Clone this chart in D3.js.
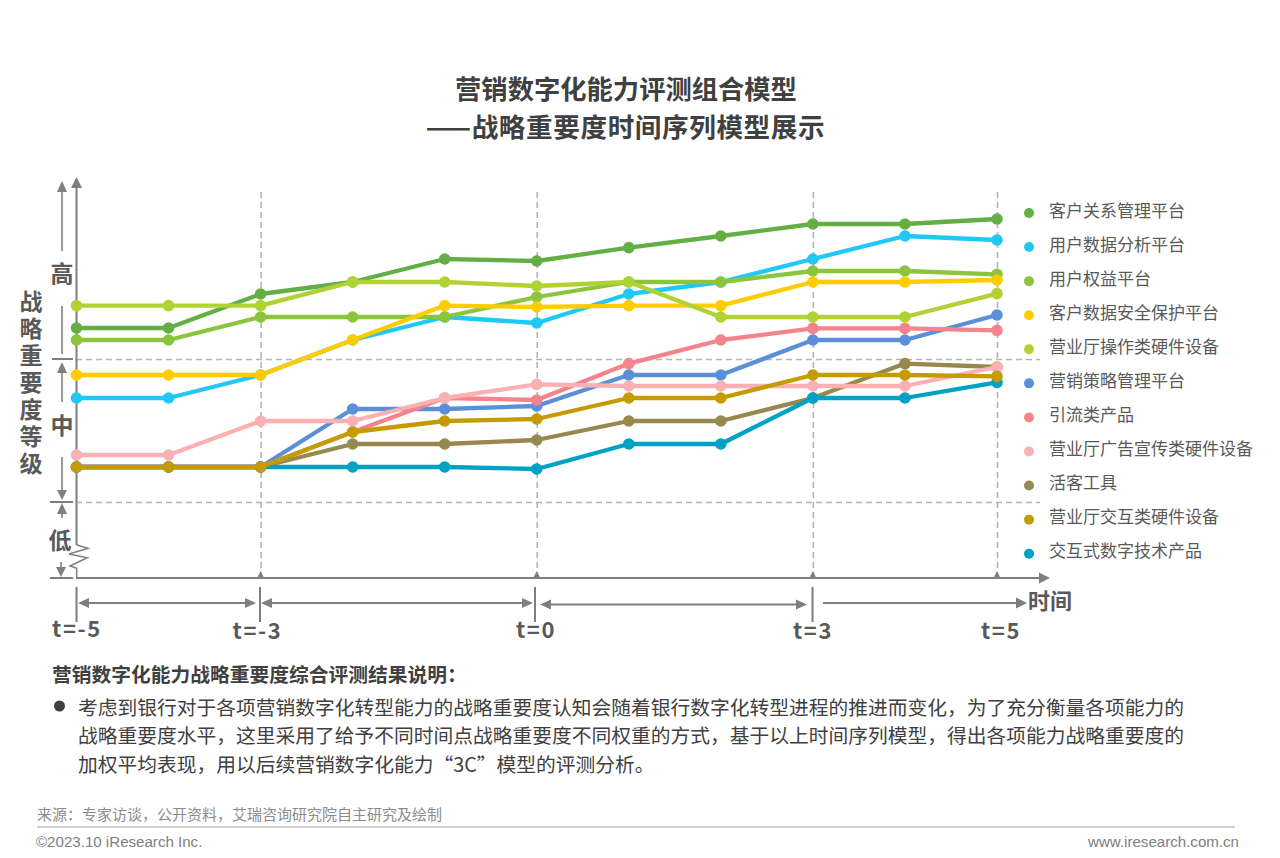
<!DOCTYPE html>
<html>
<head>
<meta charset="utf-8">
<script src="https://cdn.jsdelivr.net/npm/d3@7"></script>
<style>
    html, body { margin: 0; padding: 0; background: #fff; }
    svg { display: block; }
    text { font-family: "Noto Sans CJK SC", "Noto Sans", sans-serif; }
</style>
</head>
<body>
<div id="chart"></div>
<script>
'use strict';

// time axis, t = -5 .. 5
var times = [-5, -4, -3, -2, -1, 0, 1, 2, 3, 4, 5];
var gridTimes = [-3, 0, 3, 5];
var levelBreaks = [19, 54.75];

// legend order
var seriesNames = ['客户关系管理平台', '用户数据分析平台', '用户权益平台', '客户数据安全保护平台', '营业厅操作类硬件设备',
    '营销策略管理平台', '引流类产品', '营业厅广告宣传类硬件设备', '活客工具', '营业厅交互类硬件设备', '交互式数字技术产品'];
var seriesColors = ['#63af46', '#1fc8f5', '#8ac53c', '#ffcc00', '#b1d235',
    '#5b90d8', '#f5838b', '#fbb0b4', '#97894e', '#c49c00', '#00a2c4'];

// values, importance score 0-100
var customerRelation = [62.5, 62.5, 71, 74, 79.75, 79.25, 82.6, 85.5, 88.5, 88.5, 89.75];
var userAnalysis = [45, 45, 50.75, 59.5, 65.25, 63.75, 71, 74, 79.75, 85.5, 84.5];
var userRights = [59.5, 59.5, 65.25, 65.25, 65.25, 70.25, 74, 74, 76.75, 76.75, 75.9];
var dataSecurity = [50.75, 50.75, 50.75, 59.5, 68.1, 67.75, 68.1, 68.1, 74, 74, 74.5];
var hallOperation = [68.1, 68.1, 68.1, 74, 74, 73, 74, 65.25, 65.25, 65.25, 71.1];
var marketingStrategy = [27.75, 27.75, 27.75, 42.25, 42.25, 43, 50.75, 50.75, 59.5, 59.5, 65.75];
var trafficProducts = [27.75, 27.75, 27.75, 36.5, 45, 44.5, 53.6, 59.5, 62.4, 62.4, 61.9];
var hallAds = [30.75, 30.75, 39.25, 39.25, 45, 48.4, 48, 48, 48, 48, 52.75];
var activationTools = [27.75, 27.75, 27.75, 33.5, 33.5, 34.5, 39.25, 39.25, 45, 53.6, 52.75];
var hallInteraction = [27.75, 27.75, 27.75, 36.5, 39.25, 39.75, 45, 45, 50.75, 50.75, 50.4];
var interactiveTech = [27.75, 27.75, 27.75, 27.75, 27.75, 27.25, 33.5, 33.5, 45, 45, 48.9];
var seriesValues = [customerRelation, userAnalysis, userRights, dataSecurity, hallOperation,
    marketingStrategy, trafficProducts, hallAds, activationTools, hallInteraction, interactiveTech];

// which legend entry gets painted first (bottom) .. last (top)
var drawOrder = [8, 5, 6, 7, 10, 9, 0, 1, 2, 3, 4];

var noteLines = ['考虑到银行对于各项营销数字化转型能力的战略重要度认知会随着银行数字化转型进程的推进而变化，为了充分衡量各项能力的',
    '战略重要度水平，这里采用了给予不同时间点战略重要度不同权重的方式，基于以上时间序列模型，得出各项能力战略重要度的',
    '加权平均表现，用以后续营销数字化能力“3C”模型的评测分析。'];

var AXIS = '#7f7f7f', GRID = '#b4b4b4', TEXT = '#595959', DARK = '#404040';

var x = d3.scaleLinear().domain([-5, 5]).range([76.5, 997]);
var y = d3.scaleLinear().domain([0, 100]).range([578, 178]);

var svg = d3.select('#chart').append('svg').attr('width', 1280).attr('height', 858);
svg.append('rect').attr('width', 1280).attr('height', 858).attr('fill', '#fff');

function label(txt, px, py, size, opts) {
    opts = opts || {};
    return svg.append('text')
        .attr('x', px).attr('y', py - (opts.font ? 0 : 2))   // CJK font sits about 2px low
        .attr('dominant-baseline', 'central')
        .attr('text-anchor', opts.anchor || 'start')
        .attr('font-size', size)
        .attr('font-weight', opts.bold ? 700 : 400)
        .attr('fill', opts.fill || TEXT)
        .style('font-family', opts.font || null)
        .text(txt);
}

function rule(x1, y1, x2, y2, width) {
    svg.append('line').attr('x1', x1).attr('y1', y1).attr('x2', x2).attr('y2', y2)
        .attr('stroke', AXIS).attr('stroke-width', width || 2);
}

function head(points) {
    svg.append('polygon').attr('points', points).attr('fill', AXIS);
}

function arrowUp(px, tip, end) { rule(px, tip + 8, px, end, 1.6); head([[px - 5, tip + 11], [px + 5, tip + 11], [px, tip]].join(' ')); }
function arrowDown(px, tip, end) { rule(px, tip - 8, px, end, 1.6); head([[px - 5, tip - 10], [px + 5, tip - 10], [px, tip]].join(' ')); }
function arrowLeft(py, tip, end) { rule(tip + 8, py, end, py, 2); head([[tip + 11, py - 5], [tip + 11, py + 5], [tip, py]].join(' ')); }
function arrowRight(py, tip, end) { rule(tip - 8, py, end, py, 2); head([[tip - 11, py - 5], [tip - 11, py + 5], [tip, py]].join(' ')); }

// title
label('营销数字化能力评测组合模型', 626, 89, 26.3, {anchor: 'middle', bold: true, fill: DARK});
label('——战略重要度时间序列模型展示', 625.5, 127, 26.6, {anchor: 'middle', bold: true, fill: DARK}).attr('letter-spacing', 0.6);

// dashed guides come from the axes' own tick lines
var vGrid = svg.append('g').attr('transform', 'translate(0,578)')
    .call(d3.axisBottom(x).tickValues(gridTimes).tickSize(-390).tickFormat(''));
vGrid.select('.domain').remove();
vGrid.selectAll('line').attr('stroke', GRID).attr('stroke-width', 1.6).attr('stroke-dasharray', '6 4');

var hGrid = svg.append('g').attr('transform', 'translate(76,0)')
    .call(d3.axisLeft(y).tickValues(levelBreaks).tickSize(-964).tickFormat(''));
hGrid.select('.domain').remove();
hGrid.selectAll('line').attr('stroke', GRID).attr('stroke-width', 1.6).attr('stroke-dasharray', '6 4');

gridTimes.forEach(function(t) {
    head([[x(t) - 3.5, 578], [x(t) + 3.5, 578], [x(t), 571]].join(' '));
});

// axes
rule(76.5, 186, 76.5, 545);
head('71,188 82,188 76.5,177');
svg.append('polyline')
    .attr('points', '76.7,545 88,548.3 69,554 87.3,557.7 70,566 76.7,568.3 76.7,578')
    .attr('fill', 'none').attr('stroke', AXIS).attr('stroke-width', 1.5);
rule(76, 578, 1040, 578);
head('1039,572.5 1039,583.5 1050,578');

// level ticks and arrows on the left
rule(52, 359, 73, 359);
rule(50, 502, 73, 502);
rule(50, 578, 73, 578);
arrowUp(62, 181, 251);
rule(62, 306, 62, 354, 1.6);
arrowUp(62, 362, 402);
arrowDown(62, 500, 457);
arrowUp(62, 503, 518);
arrowDown(61, 577, 562);
label('高', 62, 274, 23, {anchor: 'middle', bold: true});
label('中', 62, 426, 23, {anchor: 'middle', bold: true});
label('低', 60, 541, 23, {anchor: 'middle', bold: true});

// vertical title, one text run
svg.append('text')
    .attr('x', 31).attr('y', 289.5)
    .attr('font-size', 23).attr('font-weight', 700).attr('fill', TEXT)
    .attr('letter-spacing', 4)
    .style('writing-mode', 'vertical-rl')
    .text('战略重要度等级');

// period arrows under the axis
rule(76.5, 587, 76.5, 622);
rule(260, 587, 260, 622);
rule(535, 587, 535, 622);
rule(812.5, 587, 812.5, 622);
arrowLeft(603, 78, 167);
arrowRight(603, 256, 167);
arrowLeft(603, 261, 397);
arrowRight(603, 533, 397);
arrowLeft(604.5, 540, 673);
arrowRight(604.5, 807, 673);
rule(823, 603, 1018, 603);
head('1016,597.5 1016,608.5 1027,603');

[['t=-5', 77, 629], ['t=-3', 257.5, 631], ['t=0', 536, 630], ['t=3', 813, 631], ['t=5', 1001, 631]].forEach(function(d) {
    label(d[0], d[1], d[2], 22, {anchor: 'middle', bold: true}).attr('letter-spacing', 1.6);
});
label('时间', 1028, 601, 22, {bold: true});

// series
var line = d3.line().x(function(d, i) { return x(times[i]); }).y(function(d) { return y(d); });
var layers = svg.append('g').selectAll('g').data(drawOrder).enter().append('g');
layers.append('path')
    .attr('d', function(k) { return line(seriesValues[k]); })
    .attr('fill', 'none')
    .attr('stroke', function(k) { return seriesColors[k]; })
    .attr('stroke-width', 4.3)
    .attr('stroke-linejoin', 'round');
layers.each(function(k) {
    d3.select(this).selectAll('circle').data(seriesValues[k]).enter().append('circle')
        .attr('cx', function(d, i) { return x(times[i]); })
        .attr('cy', function(d) { return y(d); })
        .attr('r', 5.8)
        .attr('fill', seriesColors[k]);
});

// legend
var legend = d3.scalePoint().domain(seriesNames).range([213, 553.7]);
seriesNames.forEach(function(name, i) {
    svg.append('circle').attr('cx', 1029).attr('cy', legend(name)).attr('r', 5).attr('fill', seriesColors[i]);
    label(name, 1049, legend(name) - 2, 17);
});

// explanation
label('营销数字化能力战略重要度综合评测结果说明：', 52, 675, 19.75, {bold: true, fill: DARK});
svg.append('circle').attr('cx', 59.5).attr('cy', 706).attr('r', 5.5).attr('fill', DARK);
noteLines.forEach(function(txt, i) {
    label(txt, 78, 708 + i * 28.5, 19.75, {fill: DARK});
});

// footer
label('来源：专家访谈，公开资料，艾瑞咨询研究院自主研究及绘制', 37, 815, 15, {fill: '#8c8c8c'});
svg.append('line').attr('x1', 37).attr('y1', 827).attr('x2', 1235).attr('y2', 827).attr('stroke', '#a0a0a0').attr('stroke-width', 1);
label('©2023.10 iResearch Inc.', 36, 841, 15.1, {fill: '#808080', font: '"Liberation Sans"'});
label('www.iresearch.com.cn', 1239, 841, 15.1, {anchor: 'end', fill: '#808080', font: '"Liberation Sans"'});
</script>
</body>
</html>
